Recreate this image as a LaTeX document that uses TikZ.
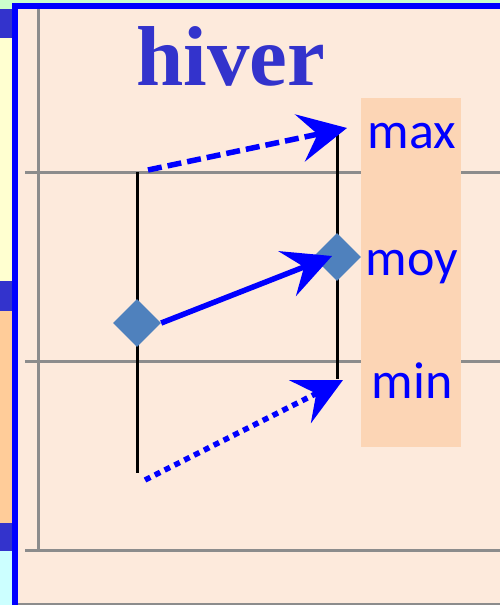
\documentclass[tikz,border=0pt]{standalone}
\usepackage{fontspec}
\setmainfont{Liberation Serif}
\newfontfamily\labelfont{Carlito}
\usetikzlibrary{arrows.meta,shapes.geometric}
\definecolor{frameblue}{RGB}{0,0,255}
\definecolor{blockblue}{RGB}{51,51,204}
\definecolor{cream}{RGB}{255,255,208}
\definecolor{mint}{RGB}{204,255,204}
\definecolor{apricot}{RGB}{255,204,153}
\definecolor{iceblue}{RGB}{204,255,255}
\definecolor{paper}{RGB}{253,234,220}
\definecolor{band}{RGB}{252,213,181}
\definecolor{gridgray}{RGB}{140,140,140}
\definecolor{steel}{RGB}{79,129,189}
\begin{document}
\begin{tikzpicture}[x=1pt,y=-1pt,line join=round,
	grid/.style={gridgray,line width=3pt},
	stem/.style={black,line width=3pt},
	mean/.style={diamond,fill=steel,inner sep=0pt,minimum size=48pt},
	move/.style={frameblue,line width=5.5pt,-{Stealth[length=48pt,width=48pt,inset=18pt]}},
	tag/.style={text=frameblue,font=\labelfont\fontsize{52}{60}\selectfont,anchor=base}]
		\useasboundingbox (0,0) rectangle (500,605);
		\fill[mint] (0,0) rectangle (500,9);
		\fill[blockblue] (0,9) rectangle (12,38);
		\fill[cream] (0,38) rectangle (12,281);
		\fill[blockblue] (0,281) rectangle (12,311);
		\fill[apricot] (0,311) rectangle (12,523);
		\fill[blockblue] (0,523) rectangle (12,551);
		\fill[iceblue] (0,551) rectangle (12,605);
		\fill[frameblue] (12,3) rectangle (500,9);
		\fill[frameblue] (12,3) rectangle (18,605);
		\fill[paper] (18,9) rectangle (500,605);
		\draw[grid] (38.5,9)--(38.5,551);
		\foreach \y in {172,361,550}
		\draw[grid] (25,\y)--(500,\y);
		\draw[grid] (18,604)--(500,604);
		\fill[band] (361,98) rectangle (461,447);
		\node[font=\bfseries\fontsize{85}{90}\selectfont,text=blockblue,anchor=base] (title) at (231,85) {hiver};
		\coordinate (hTop) at (137,172);
		\coordinate (hBot) at (137,473);
		\coordinate (eTop) at (337,133);
		\coordinate (eBot) at (337,379);
		\draw[stem] (hTop)--(hBot);
		\draw[stem] (eTop)--(eBot);
		\node[mean] (hMoy) at (137,323) {};
		\node[mean] (eMoy) at (337,257) {};
		\coordinate (maxFrom) at (148,170);
		\coordinate (maxTo) at (347,128);
		\coordinate (moyTo) at (332,256);
		\coordinate (minFrom) at (145,480);
		\coordinate (minTo) at (343,380);
		\draw[move,dash pattern=on 14pt off 6pt] (maxFrom)--(maxTo);
		\draw[move] (hMoy.east)--(moyTo);
		\draw[move,dash pattern=on 6pt off 5pt] (minFrom)--(minTo);
		\node[tag] (max) at (412,148) {max};
		\node[tag] (moy) at (412,275) {moy};
		\node[tag] (min) at (412,398) {min};
\end{tikzpicture}
\end{document}
